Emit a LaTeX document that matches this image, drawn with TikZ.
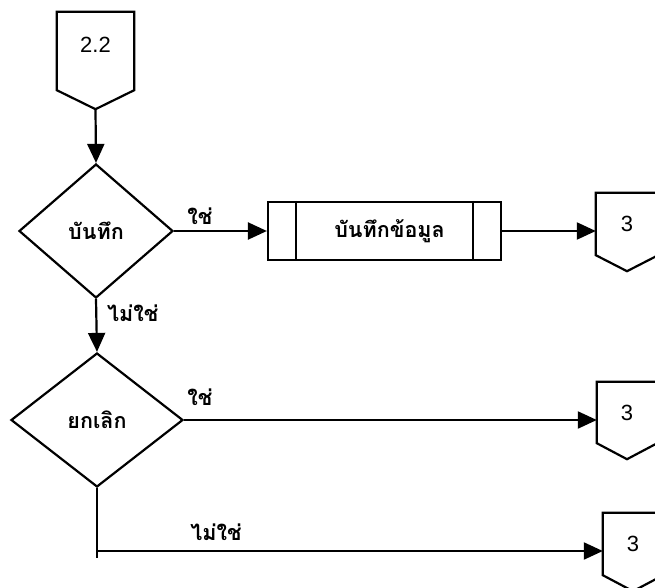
\documentclass[tikz,border=0pt]{standalone}
\usepackage{fontspec}
\setmainfont{Liberation Sans}
\newfontfamily\thaifont[Script=Thai]{Loma}
\usetikzlibrary{shapes.geometric,arrows.meta}
\begin{document}
\begin{tikzpicture}[x=1pt,y=-1pt,
  line/.style={line width=2.2pt, line join=miter},
  arr/.style={line, -{Triangle[length=19pt,width=17pt]}},
  conn/.style={inner sep=0pt, font=\fontsize{22}{22}\selectfont},
  thaitext/.style={font=\thaifont\bfseries\fontsize{21.5}{21.5}\selectfont},
  decision/.style={diamond, draw, line width=2.2pt, inner sep=0pt, thaitext},
  procbox/.style={draw, line width=2.2pt, minimum width=233pt, minimum height=58pt, inner sep=0pt, thaitext},
  lbl/.style={thaitext, inner sep=0pt}]
\fill[white] (0,0) rectangle (655,588);
\useasboundingbox (0,0) rectangle (655,588);

% off-page connector 2.2
\node[conn, minimum width=77pt, minimum height=78pt, text depth=12pt] (cA) at (95.5,51) {2.2};
\draw[line] (cA.north west) -- (cA.north east) -- (cA.south east) -- ([yshift=-19pt]cA.south) -- (cA.south west) -- cycle;

% decisions
\node[decision, minimum width=154pt, minimum height=134pt] (d1) at (96,231) {บันทึก};
\node[decision, minimum width=172pt, minimum height=134pt] (d2) at (97,420) {ยกเลิก};

% predefined process
\node[procbox] (b) at (384.5,231) {\hspace*{10pt}บันทึกข้อมูล};
\draw[line] ([xshift=29pt]b.north west) -- ([xshift=29pt]b.south west);
\draw[line] ([xshift=-29pt]b.north east) -- ([xshift=-29pt]b.south east);

% connectors 3
\node[conn, minimum width=62pt, minimum height=62pt] (c1) at (627,224) {3};
\draw[line] (c1.north west) -- (c1.north east) -- (c1.south east) -- ([yshift=-16pt]c1.south) -- (c1.south west) -- cycle;
\node[conn, minimum width=60pt, minimum height=61pt] (c2) at (627,412.5) {3};
\draw[line] (c2.north west) -- (c2.north east) -- (c2.south east) -- ([yshift=-16pt]c2.south) -- (c2.south west) -- cycle;
\node[conn, minimum width=60pt, minimum height=62pt] (c3) at (633,544) {3};
\draw[line] (c3.north west) -- (c3.north east) -- (c3.south east) -- ([yshift=-16pt]c3.south) -- (c3.south west) -- cycle;

% connectors
\draw[arr] ([yshift=-19pt]cA.south) -- (d1.north);
\draw[arr] (d1.east) -- (b.west);
\draw[arr] (b.east) -- (b.east -| c1.west);
\draw[arr] (d1.south) -- (d2.north);
\draw[arr] (d2.east) -- (d2.east -| c2.west);
\coordinate (j) at (97,551);
\draw[line] (d2.south) -- ([yshift=-7pt]j);
\draw[arr] (j) -- (j -| c3.west);

% labels
\node[lbl] (y1) at (200,216) {ใช่};
\node[lbl, anchor=west] (n1) at (107,313) {ไม่ใช่};
\node[lbl] (y2) at (200,397) {ใช่};
\node[lbl] (n2) at (216,532) {ไม่ใช่};
\end{tikzpicture}
\end{document}
